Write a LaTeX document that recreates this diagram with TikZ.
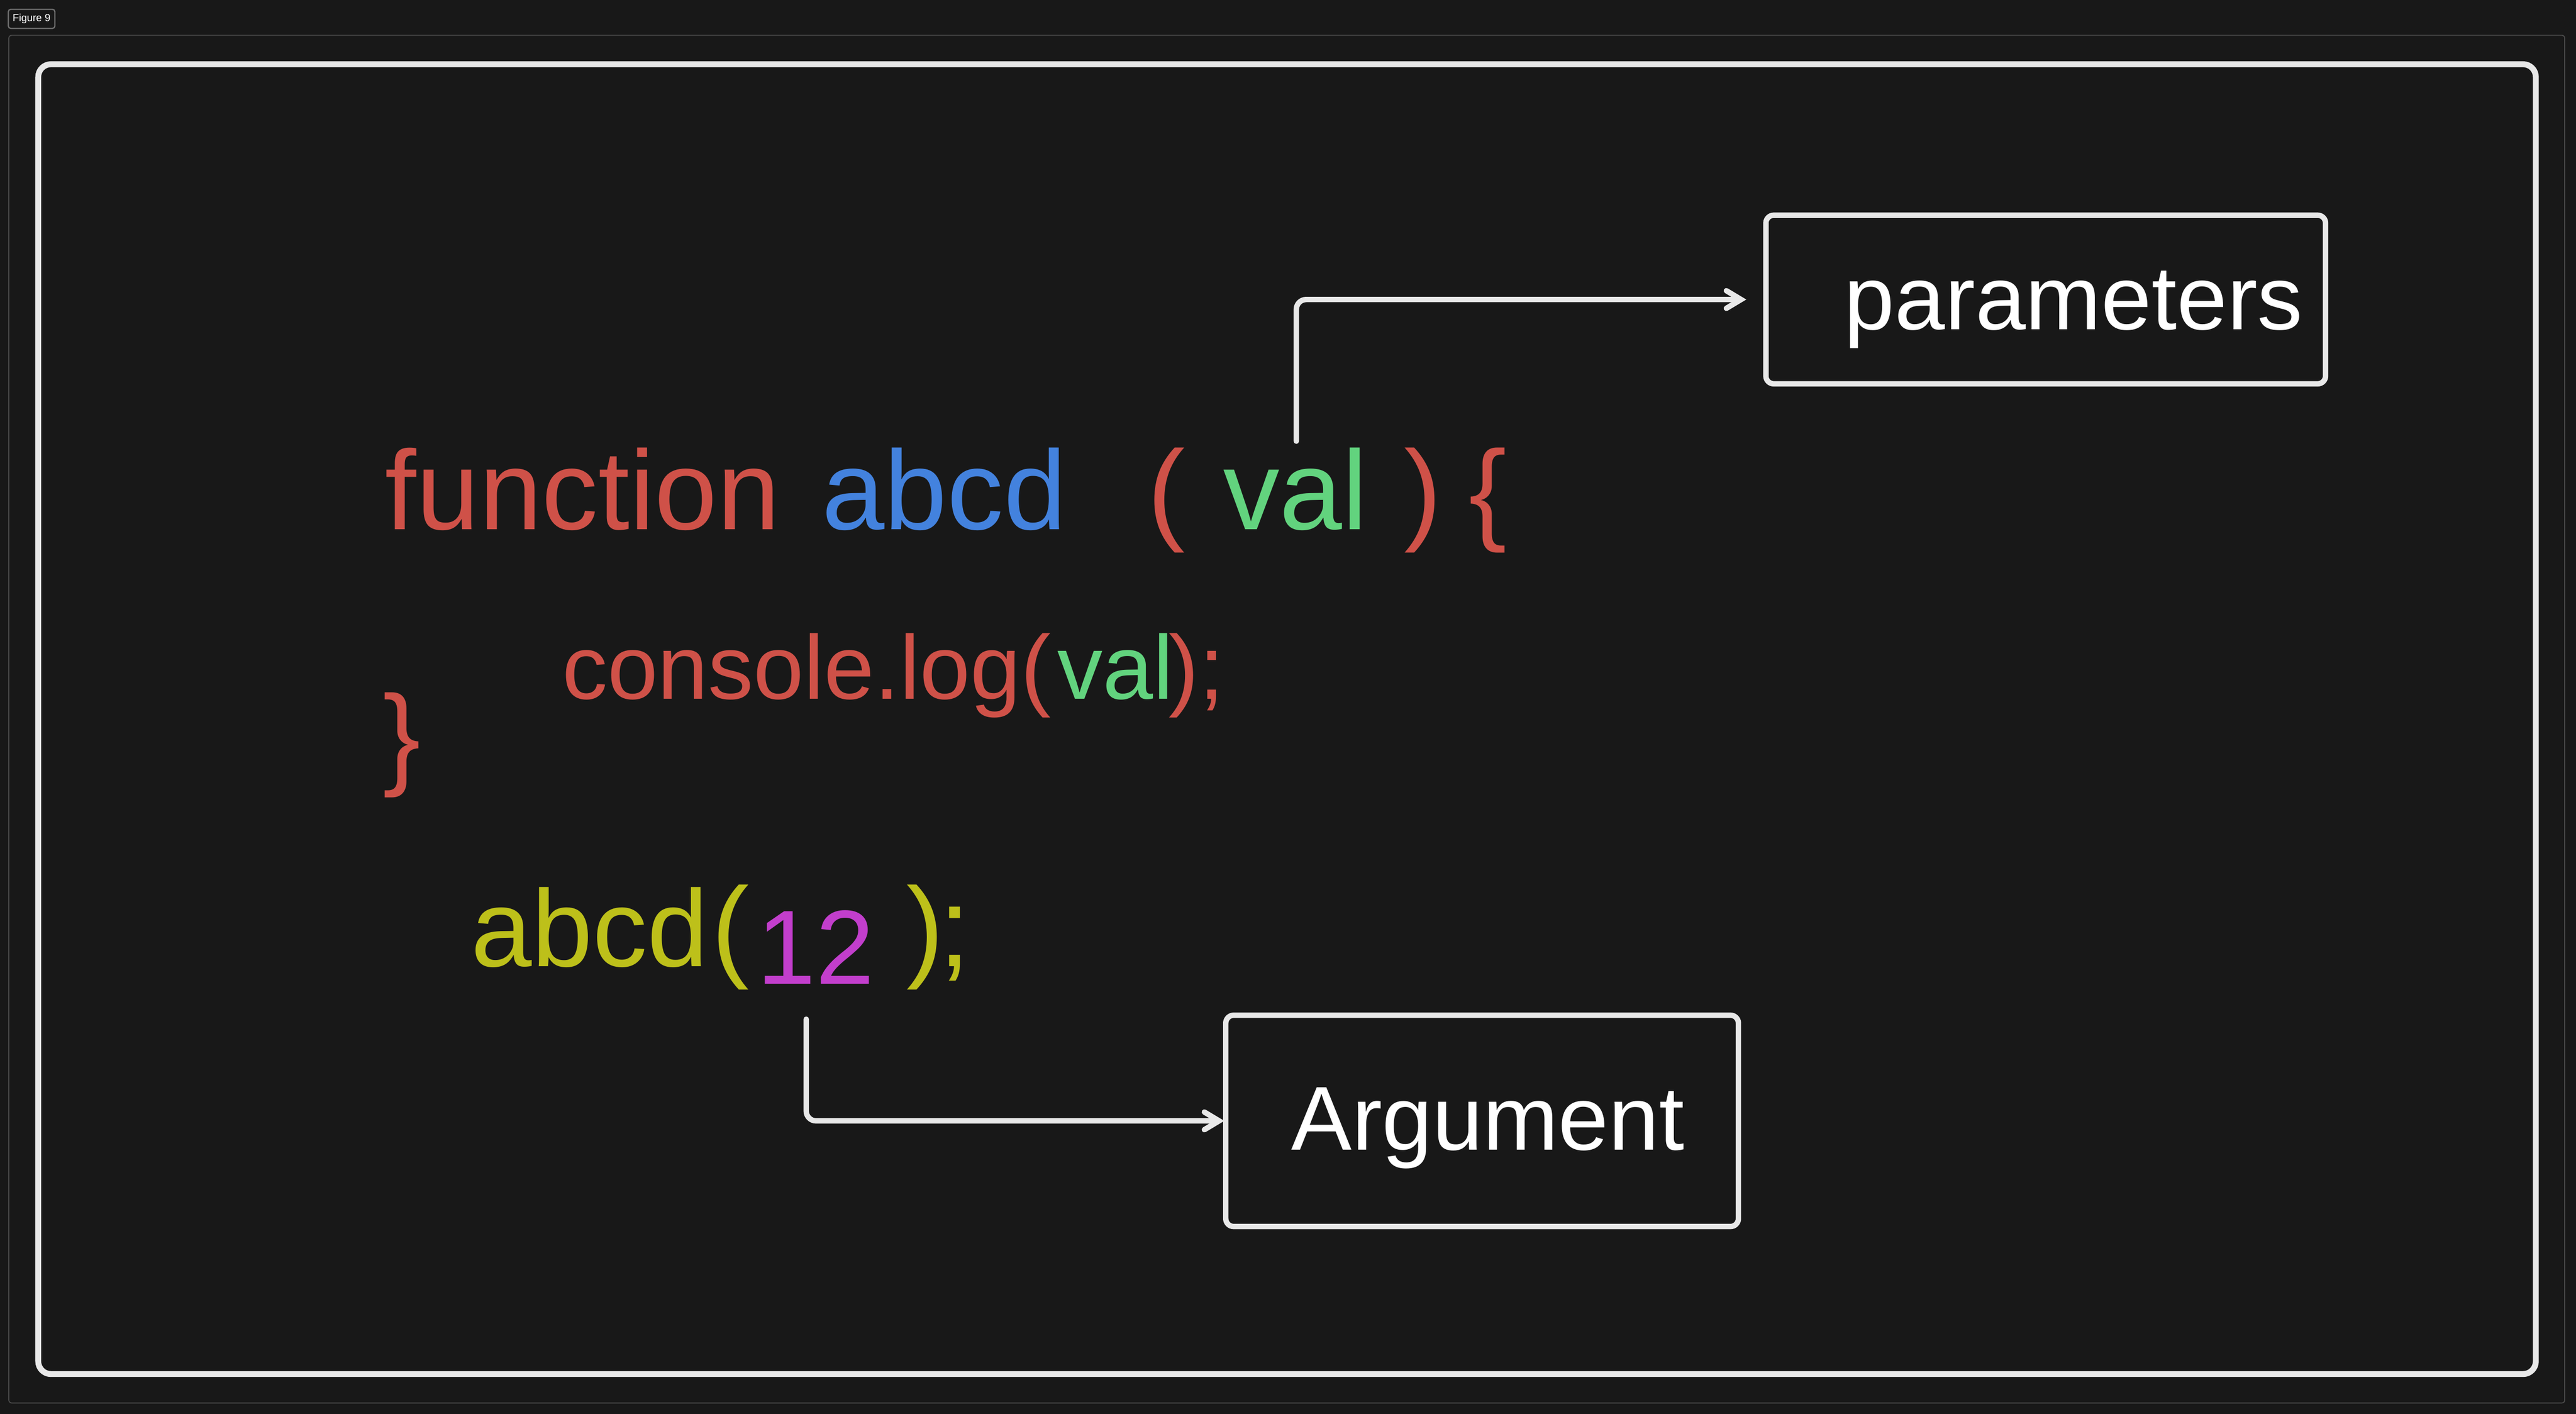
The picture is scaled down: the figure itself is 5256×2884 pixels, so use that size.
\documentclass[tikz,border=0pt]{standalone}
\usepackage{fontspec}
\setmainfont{Liberation Sans}
\usetikzlibrary{arrows.meta}
\definecolor{bgc}{HTML}{181818}
\definecolor{strokec}{HTML}{E8E8E8}
\definecolor{framegray}{HTML}{4A4A4A}
\definecolor{labelgray}{HTML}{707070}
\definecolor{codered}{HTML}{CF5148}
\definecolor{codeblue}{HTML}{4382DE}
\definecolor{codegreen}{HTML}{62D37E}
\definecolor{codeyellow}{HTML}{BDC01A}
\definecolor{codemagenta}{HTML}{C23ECC}
\begin{document}
\begin{tikzpicture}[x=0.1pt,y=-0.1pt,
  big/.style={anchor=base west, inner sep=0pt, outer sep=0pt, font=\fontsize{23}{28}\selectfont},
  mid/.style={anchor=base west, inner sep=0pt, outer sep=0pt, font=\fontsize{18.5}{22}\selectfont},
  labelbox/.style={draw=strokec, line width=1.1pt, rounded corners=1.6pt, inner sep=0pt, outer sep=0pt},
  conn/.style={draw=strokec, line width=1.1pt, rounded corners=2pt, line cap=round,
    -{Straight Barb[length=3pt, width=3.6pt, line cap=round]}}
]
% background and bounding box
\fill[bgc] (0,0) rectangle (5256,2884);
\useasboundingbox (0,0) rectangle (5256,2884);
% outer grey frame
\draw[framegray, line width=0.2pt, rounded corners=0.6pt] (18,72) rectangle (5233,2862);
% figure label
\node[draw=labelgray, line width=0.25pt, rounded corners=0.5pt, minimum width=9.5pt, minimum height=3.9pt,
  inner sep=0pt, text=white, font=\fontsize{2.1}{2.5}\selectfont] (fig) at (64.5,38.5) {Figure 9};
% white frame
\draw[strokec, line width=1.2pt, rounded corners=2.6pt] (78,131) rectangle (5174,2803);

% line 1
\node[big, text=codered] (fn) at (786,1080) {function};
\node[big, text=codeblue] (name1) at (1677,1080) {abcd};
\node[big, text=codered] (lp1) at (2342,1080) {(};
\node[big, text=codegreen] (val1) at (2496,1080) {val};
\node[big, text=codered] (rp1) at (2865,1080) {)};
\node[big, text=codered] (lb) at (2997,1080) {\{};
% line 2
\node[mid, text=codered] (log) at (1147,1426) {console.log(};
\node[mid, text=codegreen] (val2) at (2158,1426) {val};
\node[mid, text=codered] (end2) at (2385,1426) {);};
% closing brace
\node[big, text=codered] (rb) at (782,1579) {\}};
% call
\node[big, text=codeyellow, font=\fontsize{22.3}{27}\selectfont] (call) at (961,1972) {abcd};
\node[big, text=codeyellow] (lp3) at (1452,1972) {(};
\node[big, text=codemagenta, font=\fontsize{21.5}{26}\selectfont] (arg12) at (1545,2007) {12};
\node[big, text=codeyellow] (rp3) at (1850,1972) {)};
\node[big, text=codeyellow] (semi3) at (1916,1972) {;};

% boxes
\node[labelbox, minimum width=114.2pt, minimum height=34.4pt] (params) at (4174,611) {};
\node[mid, text=white] (paramstxt) at (3763,672) {parameters};
\node[labelbox, minimum width=104.6pt, minimum height=43.1pt] (arg) at (3024,2286.5) {};
\node[mid, text=white] (argtxt) at (2635,2346) {Argument};

% connectors
\coordinate (c1) at (2645,900);
\coordinate (c2) at (1645,2079);
\draw[conn, shorten >=4pt] (c1) |- (params.west);
\draw[conn, shorten >=0.3pt] (c2) |- (arg.west);
\end{tikzpicture}
\end{document}
